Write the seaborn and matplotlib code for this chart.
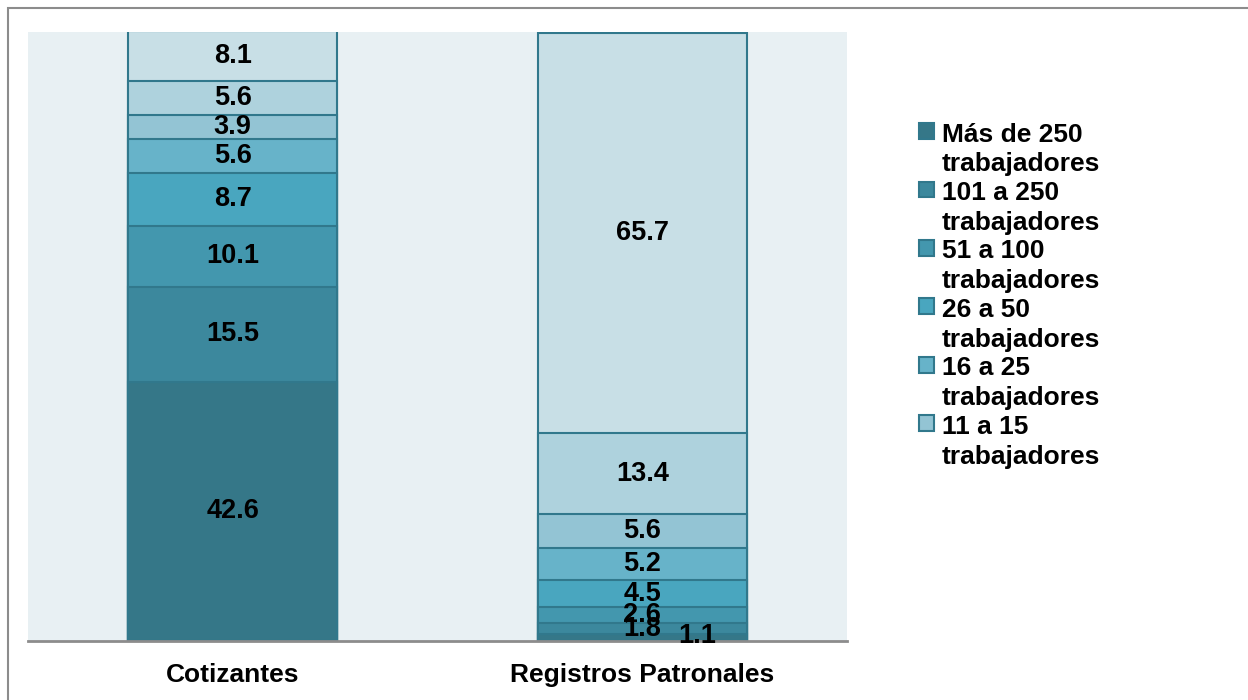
import numpy as np
import pandas as pd
import matplotlib.pyplot as plt
import seaborn as sns
from matplotlib.patches import Rectangle, Patch
from matplotlib.legend_handler import HandlerPatch

# Data (bottom segment first)
categories = ['Cotizantes', 'Registros Patronales']
size_groups = ['Más de 250\ntrabajadores', '101 a 250\ntrabajadores', '51 a 100\ntrabajadores',
               '26 a 50\ntrabajadores', '16 a 25\ntrabajadores', '11 a 15\ntrabajadores',
               '6 a 10\ntrabajadores', '1 a 5\ntrabajadores']
cotizantes = [42.6, 15.5, 10.1, 8.7, 5.6, 3.9, 5.6, 8.1]
registros = [1.1, 1.8, 2.6, 4.5, 5.2, 5.6, 13.4, 65.7]

colors = ['#357788', '#3C889D', '#4397AE', '#49A6BF', '#67B3C9', '#93C4D4', '#AED2DD', '#C8DFE6']
edge = '#31788C'

sns.set_style('white')
plt.rcParams['font.family'] = ['Liberation Sans', 'DejaVu Sans']
plt.rcParams['font.weight'] = 'bold'
plt.rcParams['text.color'] = 'black'
plt.rcParams['xtick.color'] = 'black'

fig = plt.figure(figsize=(12.48, 7.0), dpi=100)
ax = fig.add_axes([0.0224, 0.0843, 0.6563, 0.87])
ax.set_facecolor('#E8F0F3')

vals = np.array([cotizantes, registros])  # shape (2, 8)
cum = vals.cumsum(axis=1)

# draw from the top segment down so lower segments overlay
for k in range(len(size_groups) - 1, -1, -1):
    df = pd.DataFrame({'cat': categories, 'top': cum[:, k]})
    sns.barplot(data=df, x='cat', y='top', color=colors[k], edgecolor=edge, linewidth=1.5,
                width=0.51, saturation=1, ax=ax)

# value labels
for i in range(len(categories)):
    for k in range(len(size_groups)):
        v = vals[i, k]
        y = cum[i, k] - v / 2
        x = i
        if i == 1 and k == 0:
            x = i + 0.135
            y = cum[i, k] - 0.3
        ax.text(x, y, f'{v:.1f}', ha='center', va='center', fontsize=19.5, fontweight='bold', color='black')

ax.set_xlim(-0.5, 1.5)
ax.set_ylim(0, 100)
ax.set_xlabel('')
ax.set_ylabel('')
ax.set_yticks([])
ax.tick_params(axis='x', length=0, pad=16, labelsize=19)
for lbl in ax.get_xticklabels():
    lbl.set_fontweight('bold')
for s in ['top', 'left', 'right']:
    ax.spines[s].set_visible(False)
ax.spines['bottom'].set_color('#8C8C8C')
ax.spines['bottom'].set_linewidth(2)


# legend squares sit beside the first line of each two-line label
def top_square(legend, orig_handle, xdescent, ydescent, width, height, fontsize):
    return Rectangle((-xdescent, -ydescent + 0.7 * fontsize), width, height)


show = list(range(6))  # the source legend is cut after six entries
handles = [Patch(facecolor=colors[k], edgecolor=edge, linewidth=1.5) for k in show]
leg = fig.legend(handles, [size_groups[k] for k in show], loc='upper left',
                 bbox_to_anchor=(0.728, 0.84), frameon=False, fontsize=19,
                 handlelength=0.55, handleheight=0.55, handletextpad=0.3,
                 labelspacing=0.18, borderaxespad=0,
                 handler_map={Patch: HandlerPatch(patch_func=top_square)})
for t in leg.get_texts():
    t.set_fontweight('bold')
    t.set_linespacing(1.3)

# outer frame
fig.patches.append(Rectangle((8 / 1248, -0.01), 1.0, 1.01 - 8 / 700, transform=fig.transFigure,
                             fill=False, edgecolor='#8C8C8C', linewidth=1.5))

fig.savefig('out.png', dpi=100)
